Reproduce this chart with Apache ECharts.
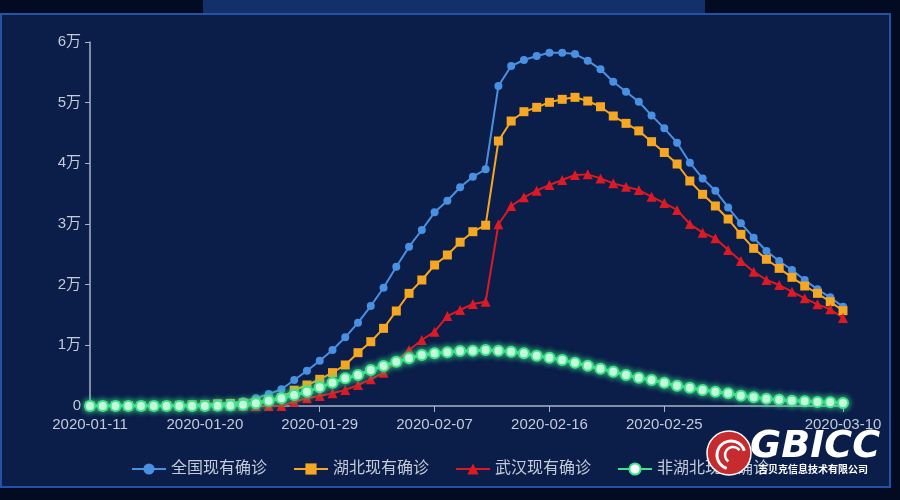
<!DOCTYPE html>
<html>
<head>
<meta charset="utf-8">
<script src="https://cdn.jsdelivr.net/npm/echarts@6/dist/echarts.min.js"></script>
<style>
html,body{margin:0;padding:0;background:#030b22;}
#chart{width:900px;height:500px;}
</style>
</head>
<body>
<div id="chart"></div>
<script>
var dates = ['2020-01-11','2020-01-12','2020-01-13','2020-01-14','2020-01-15','2020-01-16','2020-01-17','2020-01-18','2020-01-19','2020-01-20',
'2020-01-21','2020-01-22','2020-01-23','2020-01-24','2020-01-25','2020-01-26','2020-01-27','2020-01-28','2020-01-29','2020-01-30','2020-01-31',
'2020-02-01','2020-02-02','2020-02-03','2020-02-04','2020-02-05','2020-02-06','2020-02-07','2020-02-08','2020-02-09','2020-02-10',
'2020-02-11','2020-02-12','2020-02-13','2020-02-14','2020-02-15','2020-02-16','2020-02-17','2020-02-18','2020-02-19','2020-02-20',
'2020-02-21','2020-02-22','2020-02-23','2020-02-24','2020-02-25','2020-02-26','2020-02-27','2020-02-28','2020-02-29',
'2020-03-01','2020-03-02','2020-03-03','2020-03-04','2020-03-05','2020-03-06','2020-03-07','2020-03-08','2020-03-09','2020-03-10'];

var seriesNames = ['全国现有确诊','湖北现有确诊','武汉现有确诊','非湖北现有确诊'];

var national = [41,41,41,41,41,45,62,121,198,270,
410,530,800,1270,1980,2750,4290,5820,7470,9230,11320,
13730,16480,19500,22960,26260,29010,31930,33840,36050,37800,
39010,52740,56040,57030,57690,58240,58240,58020,56920,55500,
53460,51810,50160,47900,45770,43400,40100,37520,35490,
32740,30110,27740,25550,23900,22420,20770,19230,17910,16370];

var hubei = [41,41,41,41,41,45,62,121,198,260,
360,420,500,650,1000,1400,2600,3460,4400,5500,6760,
8790,10600,12800,15660,18570,20770,23240,24890,27000,28730,
29800,43680,46970,48510,49230,50060,50550,50880,50270,49330,
47800,46590,45350,43570,41790,39890,37090,34890,32970,
30820,28300,25990,24180,22690,21210,19780,18570,17190,15710];

var wuhan = [0,0,0,0,0,0,0,0,0,0,
0,0,0,0,0,0,700,1270,1650,2090,2640,
3460,4400,5500,7300,9230,10880,12250,14830,15820,16810,
17190,29950,32970,34400,35490,36430,37250,38070,38180,37520,
36700,36150,35600,34500,33450,32310,30000,28570,27640,
25710,23900,22140,20770,19940,18840,17750,16760,15940,14500];

var nonHubei = [0,0,0,0,0,0,0,0,0,10,
40,100,200,440,870,1270,1810,2360,3080,3840,4560,
5110,5930,6590,7300,7860,8410,8680,8850,9070,9120,
9230,9120,8950,8680,8290,7960,7580,7140,6640,6150,
5650,5110,4670,4290,3840,3350,3020,2640,2360,
2090,1700,1430,1200,1040,870,770,660,610,490];

var colors = ['#4a90e2','#f5a623','#dc1a24','#3fe38a'];
var FONT = '"Liberation Sans","Noto Sans CJK SC",sans-serif';
var labelIdx = function (i) { return (i % 9 === 0 && i <= 45) || i === 59; };

var chart = echarts.init(document.getElementById('chart'));
chart.setOption({
  backgroundColor: '#030b22',
  animation: false,
  textStyle: {fontFamily: FONT},
  graphic: [
    {type:'rect', z:-10, shape:{x:1,y:14,width:889,height:473}, style:{fill:'#0b1d49', stroke:'#2452a6', lineWidth:2}},
    {type:'rect', z:-10, shape:{x:203,y:0,width:502,height:13}, style:{fill:'#13306a'}},
    {type:'circle', z:100, shape:{cx:729,cy:453,r:22}, style:{fill:'#c62b2f', stroke:'#ffffff', lineWidth:1.5}},
    {type:'arc', z:101, shape:{cx:731,cy:455,r:14,startAngle:Math.PI*0.6,endAngle:Math.PI*1.9}, style:{stroke:'#ffffff', lineWidth:3, fill:null}},
    {type:'arc', z:101, shape:{cx:733,cy:455,r:8,startAngle:Math.PI*0.7,endAngle:Math.PI*1.8}, style:{stroke:'#ffffff', lineWidth:2.5, fill:null}},
    {type:'text', z:100, left:750, top:428, style:{text:'GBICC', fill:'#ffffff', font:'italic bold 38px "DejaVu Sans", sans-serif'}},
    {type:'text', z:100, left:758, top:464, style:{text:'吉贝克信息技术有限公司', fill:'#ffffff', font:'bold 10px "Noto Sans CJK SC", sans-serif'}}
  ],
  legend: {
    data: seriesNames,
    left: 'center',
    top: 456,
    itemWidth: 34,
    itemHeight: 14,
    itemGap: 26,
    textStyle: {color:'#c3cad8', fontSize:16, fontFamily: FONT}
  },
  grid: {left:90, right:57, top:42, bottom:94, containLabel:false},
  xAxis: {
    type: 'category',
    data: dates,
    boundaryGap: false,
    axisLine: {lineStyle:{color:'#aab3c6', width:1.5}},
    axisTick: {show:true, interval: labelIdx, length:6, lineStyle:{color:'#aab3c6'}},
    axisLabel: {interval: labelIdx, color:'#c3cad8', fontSize:15, margin:11, fontFamily: FONT},
    splitLine: {show:false}
  },
  yAxis: {
    type: 'value',
    min: 0, max: 60000, interval: 10000,
    axisLine: {show:true, lineStyle:{color:'#aab3c6', width:1.5}},
    axisTick: {show:true, length:5, lineStyle:{color:'#aab3c6'}},
    axisLabel: {color:'#c3cad8', fontSize:15, margin:9, fontFamily: FONT,
      formatter: function (v) { return v === 0 ? '0' : (v/10000) + '万'; }},
    splitLine: {show:false}
  },
  series: [
    {name:seriesNames[0], type:'line', data:national, symbol:'circle', symbolSize:8, showAllSymbol:true,
     lineStyle:{color:colors[0], width:2}, itemStyle:{color:colors[0]}},
    {name:seriesNames[1], type:'line', data:hubei, symbol:'rect', symbolSize:9, showAllSymbol:true,
     lineStyle:{color:colors[1], width:2}, itemStyle:{color:colors[1]}},
    {name:seriesNames[2], type:'line', data:wuhan, symbol:'triangle', symbolSize:10, showAllSymbol:true,
     lineStyle:{color:colors[2], width:2}, itemStyle:{color:colors[2]}},
    {name:seriesNames[3], type:'line', data:nonHubei, symbol:'circle', symbolSize:10, showAllSymbol:true,
     lineStyle:{color:colors[3], width:3},
     itemStyle:{color:'#ffffff', borderColor:colors[3], borderWidth:2, shadowBlur:6, shadowColor:'#3fe38a'}}
  ]
});
</script>
</body>
</html>
